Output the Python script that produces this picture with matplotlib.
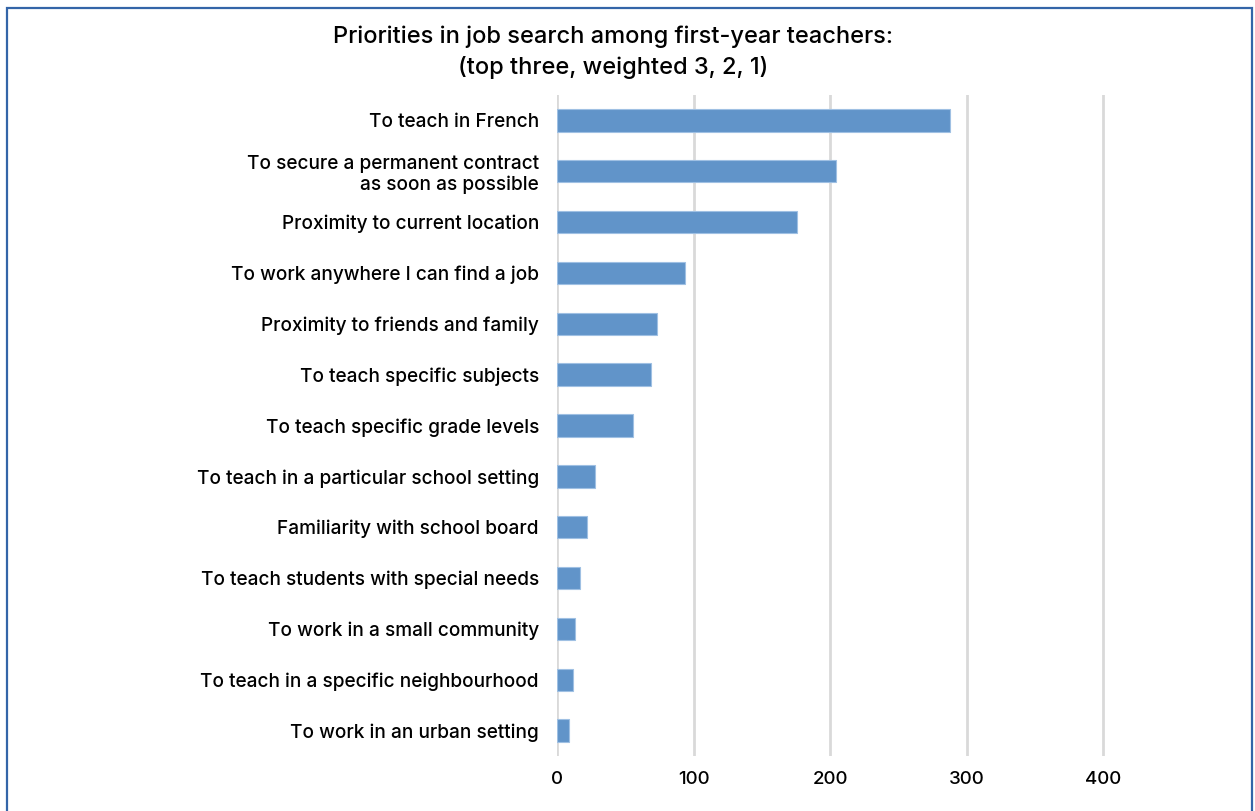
import matplotlib
matplotlib.use("Agg")
import matplotlib.pyplot as plt
from matplotlib.patches import Rectangle

categories = [
    "To teach in French",
    "To secure a permanent contract\nas soon as possible",
    "Proximity to current location",
    "To work anywhere I can find a job",
    "Proximity to friends and family",
    "To teach specific subjects",
    "To teach specific grade levels",
    "To teach in a particular school setting",
    "Familiarity with school board",
    "To teach students with special needs",
    "To work in a small community",
    "To teach in a specific neighbourhood",
    "To work in an urban setting",
]
scores = [288, 204, 176, 94, 73, 69, 56, 28, 22, 17, 13, 12, 9]
x_ticks = [0, 100, 200, 300, 400]
title = "Priorities in job search among first-year teachers:\n(top three, weighted 3, 2, 1)"

plt.rcParams["font.family"] = ["Inter", "DejaVu Sans"]

fig = plt.figure(figsize=(12.55, 8.11), dpi=100)
ax = fig.add_axes([557 / 1255, 1 - 756 / 811, (1240 - 557) / 1255, (756 - 95) / 811])

ypos = list(range(len(categories)))
ax.barh(ypos, scores, height=0.44, color="#6194c9", edgecolor="#9fc0e3", linewidth=0.8, zorder=3)
ax.set_ylim(len(categories) - 0.5, -0.5)
ax.set_xlim(0, 500)
ax.set_xticks(x_ticks)
ax.set_xticklabels([str(t) for t in x_ticks], fontsize=13.5, fontweight="medium")
ax.set_yticks(ypos)
ax.set_yticklabels(categories, fontsize=13.7, fontweight="medium", linespacing=1.2)
ax.tick_params(axis="both", length=0, colors="black")
ax.tick_params(axis="y", pad=13)
ax.tick_params(axis="x", pad=11)
for t in ax.get_yticklabels():
    t.set_horizontalalignment("right")
for s in ax.spines.values():
    s.set_visible(False)
ax.xaxis.grid(True, color="#d9d9d9", linewidth=2, zorder=0)
ax.set_axisbelow(True)

fig.text(613 / 1255, 1 - 52 / 811, title, ha="center", va="center", fontsize=17,
         fontweight="medium", linespacing=1.45)

fig.patches.append(Rectangle((7 / 1255, -0.05), (1252 - 7) / 1255, 1 - 8 / 811 + 0.05,
                             transform=fig.transFigure, fill=False,
                             edgecolor="#3465a8", linewidth=1.6))

fig.savefig("out.png", dpi=100)
